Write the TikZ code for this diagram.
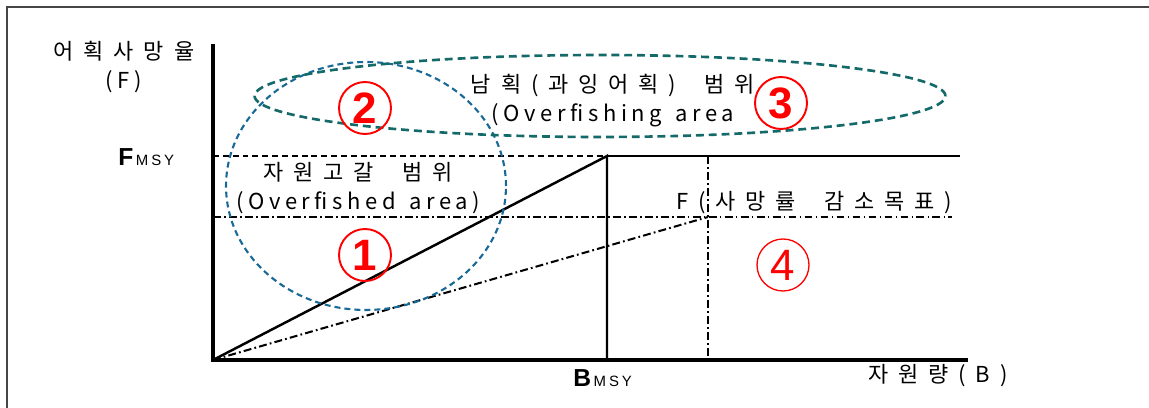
\documentclass[tikz,border=0pt]{standalone}
\usepackage{fontspec}
\setmainfont{Noto Sans CJK KR}
\newfontfamily\krfont{Noto Sans CJK KR}[LetterSpace=45]
\newfontfamily\enfont{Noto Sans CJK KR}[LetterSpace=21]
\newfontfamily\arfont{Liberation Sans}
\newfontfamily\subfont{Liberation Sans}[LetterSpace=20]
\usetikzlibrary{positioning, calc}

\definecolor{framegray}{RGB}{70,70,70}
\definecolor{rangeblue}{RGB}{25,105,150}
\definecolor{rangeteal}{RGB}{20,105,105}
\definecolor{numred}{RGB}{255,0,0}

\newcommand{\wsp}{\kern0.6em\relax}
\newcommand{\kwsp}{\kern1.3em\relax}

\tikzset{
  lbl/.style={inner sep=0pt, align=center, font=\krfont\fontsize{12.5}{16.5}\selectfont},
  msylbl/.style={inner sep=0pt, font=\arfont\bfseries\fontsize{14}{14}\selectfont},
  numc/.style={circle, draw=numred, line width=1.1pt, minimum size=1.04cm, inner sep=0pt,
    text=numred, font=\arfont\bfseries\fontsize{25}{25}\selectfont},
  dashdot/.style={line width=1.15pt, dash pattern=on 4.5pt off 1.8pt on 1pt off 1.8pt},
  refdash/.style={line width=1.1pt, dash pattern=on 3.4pt off 2.2pt},
}

\begin{document}
\begin{tikzpicture}[x=0.02cm, y=-0.02cm]
  \useasboundingbox (0,0) rectangle (1149,408);

  % Frame (top and left edges)
  \draw[framegray, line width=1.3pt] (7,408) -- (7,7) -- (1149,7);

  % Key points
  \coordinate (O) at (213,360);
  \coordinate (Ytop) at (213,44);
  \coordinate (Xend) at (968,360);
  \coordinate (Fl) at (213,156);
  \coordinate (M) at (607,156);
  \coordinate (Fr) at (960,156);
  \coordinate (Bm) at (607,360);
  \coordinate (Tl) at (213,217);
  \coordinate (T) at (708,217);
  \coordinate (Tr) at (952,217);
  \coordinate (Tt) at (708,156);
  \coordinate (Tb) at (708,360);

  % F_MSY line and harvest rule
  \draw[refdash] (Fl) -- (M);
  \draw[line width=1.4pt] (M) -- (Fr);
  \draw[line width=1.4pt] (O) -- (M) -- (Bm);

  % Target rule (dash-dot)
  \draw[dashdot] (Tl) -- (Tr);
  \draw[dashdot] (Tt) -- (Tb);
  \draw[dashdot] (O) -- (T);

  % Axes
  \draw[line width=2pt] (Ytop) -- (O) -- (Xend);

  % Ranges
  \draw[rangeblue, line width=1.2pt, dash pattern=on 3.4pt off 2.3pt]
    (366,186) ellipse [x radius=2.8cm, y radius=2.48cm];
  \draw[rangeteal, line width=1.5pt, dash pattern=on 4.5pt off 2.8pt]
    (600,96) ellipse [x radius=6.91cm, y radius=0.82cm];

  % Axis labels
  \node[lbl] (ylab) at (124,67) {어획사망율\\{\enfont (F)}};
  \node[lbl, anchor=east] (xlab) at (1008,376) {자원량(B)};
  \node[msylbl, anchor=west] (fmsy) at (118,157) {F{\subfont\mdseries\fontsize{8.5}{8.5}\selectfont\,MSY}};
  \node[msylbl, anchor=west] (bmsy) at (573,378) {B{\subfont\mdseries\fontsize{8.5}{8.5}\selectfont\,MSY}};

  % Range labels
  \node[lbl] (collapse) at (358,188) {자원고갈\kwsp 범위\\{\enfont (Overfished\wsp area)}};
  \node[lbl] (overfish) at (613,101) {남획(과잉어획)\kwsp 범위\\{\enfont (Overfishing\wsp area}};
  \node[lbl] (target) at (814,203) {F(사망률\kwsp 감소목표)};

  % Circled numbers
  \node[numc] (n1) at (365,255) {1};
  \node[numc] (n2) at (365,108) {2};
  \node[numc] (n3) at (781,103) {3};
  \node[numc, line width=0.75pt, font=\arfont\fontsize{25}{25}\selectfont] (n4) at (783,265) {4};

\end{tikzpicture}
\end{document}
